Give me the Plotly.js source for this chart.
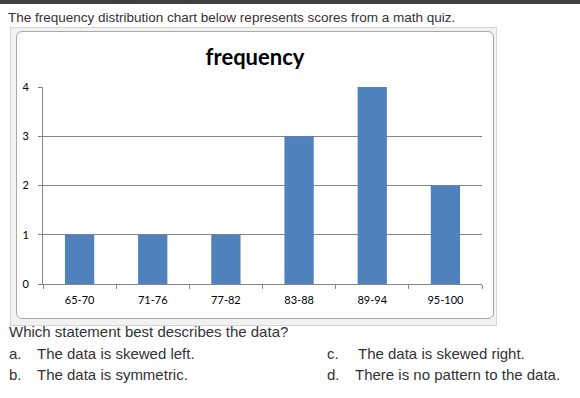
<!DOCTYPE html>
<html>
<head>
<meta charset="utf-8">
<script src="https://cdn.plot.ly/plotly-3.0.1.min.js"></script>
<style>
  html, body { margin:0; padding:0; background:#fff; width:580px; height:398px; overflow:hidden; }
  body { position:relative; font-family:Arial, "Liberation Sans", sans-serif; color:#333; }
  #topbar { position:absolute; left:0; top:0; width:580px; height:4px; background:#3f3f3f; }
  .t { position:absolute; font-size:15px; line-height:17px; white-space:nowrap; color:#333; }
  .top { font-size:13.5px; line-height:15px; }
  #outer { position:absolute; left:10px; top:27px; width:485px; height:297px; background:#f2f2f2; border:1px solid #d6d6d6; }
  #inner { position:absolute; left:16px; top:31px; width:476px; height:286px; background:#fff; border:1px solid #a9a9a9; border-radius:6px; }
  #chart { position:absolute; left:17px; top:32px; width:476px; height:286px; }
</style>
</head>
<body>
<div id="topbar"></div>
<div class="t top" style="left:8px; top:10px;">The frequency distribution chart below represents scores from a math quiz.</div>
<div id="outer"></div>
<div id="inner"></div>
<div id="chart"></div>
<div class="t" style="left:9px; top:323px;">Which statement best describes the data?</div>
<div class="t" style="left:9px; top:345px;">a.</div>
<div class="t" style="left:37px; top:345px;">The data is skewed left.</div>
<div class="t" style="left:9px; top:366px;">b.</div>
<div class="t" style="left:37px; top:366px;">The data is symmetric.</div>
<div class="t" style="left:327px; top:345px;">c.</div>
<div class="t" style="left:358px; top:345px;">The data is skewed right.</div>
<div class="t" style="left:327px; top:366px;">d.</div>
<div class="t" style="left:355px; top:366px;">There is no pattern to the data.</div>
<script>
const categories = ["65-70", "71-76", "77-82", "83-88", "89-94", "95-100"];
const frequency = [1, 1, 1, 3, 4, 2];
const yTicks = [0, 1, 2, 3, 4];
const chartTitle = "frequency";

const trace = {
  type: "bar",
  x: categories,
  y: frequency,
  marker: { color: "#4F81BD" },
  hoverinfo: "none"
};

const layout = {
  width: 476,
  height: 286,
  margin: { l: 26, r: 11, t: 55, b: 34 },
  paper_bgcolor: "rgba(0,0,0,0)",
  plot_bgcolor: "#fff",
  bargap: 0.6,
  showlegend: false,
  title: {
    text: chartTitle,
    font: { family: "Lato, sans-serif", size: 22, color: "#000", weight: 700 },
    x: 0.5, xanchor: "center",
    y: 1 - 25 / 286, yanchor: "middle", yref: "container"
  },
  xaxis: {
    type: "category",
    showline: true, linecolor: "#868686", linewidth: 1,
    ticks: "outside", ticklen: 4, tickcolor: "#868686", tickson: "boundaries",
    ticklabelstandoff: 6,
    tickfont: { family: "Lato, sans-serif", size: 11, color: "#000" },
    showgrid: false, zeroline: false, fixedrange: true
  },
  yaxis: {
    range: [0, 4],
    tickvals: yTicks,
    ticktext: yTicks.map(String),
    showline: true, linecolor: "#868686", linewidth: 1,
    ticks: "outside", ticklen: 4, tickcolor: "#868686",
    ticklabelstandoff: 7,
    tickfont: { family: "Lato, sans-serif", size: 11, color: "#000" },
    showgrid: true, gridcolor: "#868686", gridwidth: 1,
    zeroline: false, fixedrange: true
  }
};

Plotly.newPlot("chart", [trace], layout, { staticPlot: true, displayModeBar: false });
</script>
</body>
</html>
